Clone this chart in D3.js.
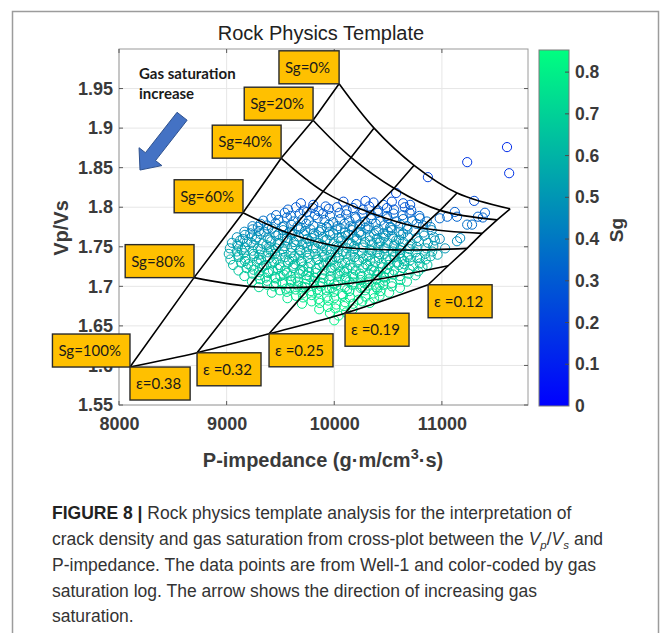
<!DOCTYPE html>
<html>
<head>
<meta charset="utf-8">
<script src="https://cdn.jsdelivr.net/npm/d3@7"></script>
<style>
  html, body { margin: 0; padding: 0; background: #fff; }
  svg { display: block; }
</style>
</head>
<body>
<svg id="chart" width="665" height="633"></svg>
<script>
// axis ranges and ticks
const xDomain = [8000, 11800];
const yDomain = [1.55, 2.0];
const xTicks = [8000, 9000, 10000, 11000];
const yTicks = [1.55, 1.6, 1.65, 1.7, 1.75, 1.8, 1.85, 1.9, 1.95];
const sgRange = [0, 0.853];
const sgTicks = [0, 0.1, 0.2, 0.3, 0.4, 0.5, 0.6, 0.7, 0.8];

// template: crack density lines and gas saturation curves
const crackDensity = [0.38, 0.32, 0.25, 0.19, 0.12];
const crackLabels = ['ε=0.38', 'ε =0.32', 'ε =0.25', 'ε =0.19', 'ε =0.12'];
const satLevels = [0, 20, 40, 60, 80, 100];
const satLabels = ['Sg=0%', 'Sg=20%', 'Sg=40%', 'Sg=60%', 'Sg=80%', 'Sg=100%'];

// node values, one row per Sg level, one column per crack density
const rptImpedance = [
  [10045, 10370, 10742, 11141, 11634],
  [9803, 10156, 10556, 10983, 11513],
  [9506, 9896, 10333, 10807, 11374],
  [9152, 9580, 10054, 10630, 11234],
  [8697, 9208, 9775, 10361, 11058],
  [8102, 8725, 9394, 10100, 10872]
];
const rptVpVs = [
  [1.956, 1.900, 1.853, 1.818, 1.798],
  [1.910, 1.863, 1.824, 1.796, 1.784],
  [1.862, 1.820, 1.793, 1.774, 1.767],
  [1.793, 1.767, 1.750, 1.746, 1.748],
  [1.711, 1.700, 1.699, 1.708, 1.726],
  [1.598, 1.616, 1.640, 1.666, 1.702]
];

// arrow annotation (data units)
const arrowTail = [8586, 1.915];
const arrowTip = [8195, 1.847];

// Well-1 samples: [P-impedance, Vp/Vs, Sg]
const wellTop = [
  [9690,1.805,.28],[9805,1.803,.27],[9920,1.801,.29],[10085,1.807,.26],[10205,1.804,.27],[10290,1.808,.25],
  [10365,1.806,.27],[10455,1.803,.28],[10535,1.807,.26],[10575,1.818,.24],[10640,1.805,.27],
  [9570,1.797,.31],[9645,1.800,.30],[9715,1.796,.31],[9800,1.799,.29],[9855,1.795,.31],[9950,1.798,.30],
  [10025,1.800,.29],[10115,1.796,.31],[10175,1.799,.30],[10265,1.797,.30],[10325,1.801,.28],[10405,1.796,.31],
  [10490,1.799,.29],[10555,1.797,.30],[10655,1.800,.29],[10715,1.796,.31],
  [9460,1.790,.33],[9540,1.793,.32],[9595,1.789,.34],[9680,1.792,.33],[9745,1.794,.32],[9820,1.790,.34],
  [9895,1.792,.33],[9960,1.789,.34],[10050,1.793,.32],[10110,1.791,.33],[10195,1.788,.35],[10260,1.792,.33],
  [10345,1.790,.34],[10405,1.793,.32],[10490,1.789,.34],[10550,1.792,.33],[10635,1.790,.34],[10700,1.793,.32],
  [10790,1.789,.34],
  [9340,1.783,.37],[9415,1.786,.36],[9480,1.784,.36],[9560,1.787,.35],[9620,1.782,.37],[9705,1.785,.36],
  [9765,1.783,.37],[9845,1.786,.35],[9910,1.784,.36],[9990,1.781,.38],[10055,1.785,.36],[10140,1.783,.37],
  [10200,1.786,.35],[10285,1.782,.37],[10345,1.785,.36],[10430,1.783,.37],[10495,1.786,.35],[10575,1.782,.37],
  [10640,1.785,.36],[10725,1.783,.37],[10795,1.786,.35],[10860,1.782,.37]
];
const wellMid = [
  [9240,1.776,.40],[9315,1.779,.39],[9375,1.777,.40],[9455,1.780,.39],[9515,1.775,.41],[9600,1.778,.40],
  [9660,1.776,.41],[9740,1.779,.39],[9805,1.777,.40],[9885,1.774,.42],[9950,1.778,.40],[10030,1.776,.41],
  [10095,1.779,.39],[10175,1.775,.41],[10240,1.778,.40],[10320,1.776,.41],[10385,1.779,.39],[10465,1.777,.40],
  [10530,1.774,.42],[10615,1.778,.40],[10675,1.776,.41],[10765,1.779,.39],[10825,1.777,.40],[10895,1.775,.41],
  [9165,1.769,.44],[9240,1.772,.43],[9300,1.770,.44],[9385,1.773,.43],[9445,1.768,.45],[9525,1.771,.44],
  [9585,1.769,.45],[9670,1.772,.43],[9730,1.770,.44],[9810,1.767,.46],[9875,1.771,.44],[9955,1.769,.45],
  [10020,1.772,.43],[10100,1.768,.45],[10165,1.771,.44],[10245,1.769,.45],[10310,1.772,.43],[10390,1.770,.44],
  [10455,1.767,.46],[10535,1.771,.44],[10600,1.769,.45],[10680,1.772,.43],[10745,1.770,.44],[10830,1.768,.45],
  [10905,1.771,.44],
  [9095,1.762,.48],[9170,1.765,.47],[9235,1.763,.48],[9315,1.766,.47],[9380,1.761,.49],[9460,1.764,.48],
  [9525,1.762,.49],[9605,1.765,.47],[9670,1.763,.48],[9750,1.760,.50],[9815,1.764,.48],[9895,1.762,.49],
  [9960,1.765,.47],[10040,1.761,.49],[10105,1.764,.48],[10185,1.762,.49],[10250,1.765,.47],[10330,1.763,.48],
  [10395,1.760,.50],[10475,1.764,.48],[10540,1.762,.49],[10620,1.765,.47],[10685,1.763,.48],[10765,1.761,.49],
  [10835,1.764,.48],[10925,1.762,.49],
  [9050,1.755,.51],[9125,1.758,.50],[9190,1.756,.51],[9270,1.759,.50],[9335,1.754,.52],[9415,1.757,.51],
  [9480,1.755,.52],[9560,1.758,.50],[9625,1.756,.51],[9705,1.753,.53],[9770,1.757,.51],[9850,1.755,.52],
  [9915,1.758,.50],[9995,1.754,.52],[10060,1.757,.51],[10140,1.755,.52],[10205,1.758,.50],[10285,1.756,.51],
  [10350,1.753,.53],[10430,1.757,.51],[10495,1.755,.52],[10575,1.758,.50],[10640,1.756,.51],[10720,1.754,.52],
  [10785,1.757,.51],[10870,1.755,.52],[10935,1.758,.50],
  [9030,1.748,.54],[9105,1.751,.53],[9170,1.749,.54],[9250,1.752,.53],[9315,1.747,.55],[9395,1.750,.54],
  [9460,1.748,.55],[9540,1.751,.53],[9605,1.749,.54],[9685,1.746,.56],[9750,1.750,.54],[9830,1.748,.55],
  [9895,1.751,.53],[9975,1.747,.55],[10040,1.750,.54],[10120,1.748,.55],[10185,1.751,.53],[10265,1.749,.54],
  [10330,1.746,.56],[10410,1.750,.54],[10475,1.748,.55],[10555,1.751,.53],[10620,1.749,.54],[10700,1.747,.55],
  [10765,1.750,.54],[10855,1.748,.55],[10920,1.751,.53],
  [9020,1.741,.57],[9095,1.744,.56],[9160,1.742,.57],[9240,1.745,.56],[9305,1.740,.58],[9385,1.743,.57],
  [9450,1.741,.58],[9530,1.744,.56],[9595,1.742,.57],[9675,1.739,.59],[9740,1.743,.57],[9820,1.741,.58],
  [9885,1.744,.56],[9965,1.740,.58],[10030,1.743,.57],[10110,1.741,.58],[10175,1.744,.56],[10255,1.742,.57],
  [10320,1.739,.59],[10400,1.743,.57],[10465,1.741,.58],[10545,1.744,.56],[10610,1.742,.57],[10690,1.740,.58],
  [10755,1.743,.57],[10845,1.741,.58],[10910,1.744,.56]
];
const wellLow = [
  [9035,1.734,.60],[9110,1.737,.59],[9175,1.735,.60],[9255,1.738,.59],[9320,1.733,.61],[9400,1.736,.60],
  [9465,1.734,.61],[9545,1.737,.59],[9610,1.735,.60],[9690,1.732,.62],[9755,1.736,.60],[9835,1.734,.61],
  [9900,1.737,.59],[9980,1.733,.61],[10045,1.736,.60],[10125,1.734,.61],[10190,1.737,.59],[10270,1.735,.60],
  [10335,1.732,.62],[10415,1.736,.60],[10480,1.734,.61],[10560,1.737,.59],[10625,1.735,.60],[10705,1.733,.61],
  [10770,1.736,.60],[10850,1.734,.61],[10895,1.738,.59],
  [9060,1.727,.63],[9135,1.730,.62],[9200,1.728,.63],[9280,1.731,.62],[9345,1.726,.64],[9425,1.729,.63],
  [9490,1.727,.64],[9570,1.730,.62],[9635,1.728,.63],[9715,1.725,.65],[9780,1.729,.63],[9860,1.727,.64],
  [9925,1.730,.62],[10005,1.726,.64],[10070,1.729,.63],[10150,1.727,.64],[10215,1.730,.62],[10295,1.728,.63],
  [10360,1.725,.65],[10440,1.729,.63],[10505,1.727,.64],[10585,1.730,.62],[10650,1.728,.63],[10730,1.726,.64],
  [10795,1.729,.63],[10865,1.727,.64],
  [9110,1.720,.66],[9185,1.723,.65],[9250,1.721,.66],[9330,1.724,.65],[9395,1.719,.67],[9475,1.722,.66],
  [9540,1.720,.67],[9620,1.723,.65],[9685,1.721,.66],[9765,1.718,.68],[9830,1.722,.66],[9910,1.720,.67],
  [9975,1.723,.65],[10055,1.719,.67],[10120,1.722,.66],[10200,1.720,.67],[10265,1.723,.65],[10345,1.721,.66],
  [10410,1.718,.68],[10490,1.722,.66],[10555,1.720,.67],[10635,1.723,.65],[10700,1.721,.66],[10780,1.719,.67],
  [10820,1.724,.65],
  [9165,1.713,.69],[9240,1.716,.68],[9305,1.714,.69],[9385,1.717,.68],[9450,1.712,.70],[9530,1.715,.69],
  [9595,1.713,.70],[9675,1.716,.68],[9740,1.714,.69],[9820,1.711,.71],[9885,1.715,.69],[9965,1.713,.70],
  [10030,1.716,.68],[10110,1.712,.70],[10175,1.715,.69],[10255,1.713,.70],[10320,1.716,.68],[10400,1.714,.69],
  [10465,1.711,.71],[10545,1.715,.69],[10610,1.713,.70],[10690,1.716,.68],[10755,1.714,.69],
  [9235,1.706,.71],[9310,1.709,.70],[9375,1.707,.71],[9455,1.710,.70],[9520,1.705,.72],[9600,1.708,.71],
  [9665,1.706,.72],[9745,1.709,.70],[9810,1.707,.71],[9890,1.704,.73],[9955,1.708,.71],[10035,1.706,.72],
  [10100,1.709,.70],[10180,1.705,.72],[10245,1.708,.71],[10325,1.706,.72],[10390,1.709,.70],[10470,1.707,.71],
  [10535,1.704,.73],[10615,1.708,.71],[10675,1.706,.72],
  [9300,1.699,.73],[9375,1.702,.72],[9440,1.700,.73],[9520,1.703,.72],[9585,1.698,.74],[9665,1.701,.73],
  [9730,1.699,.74],[9810,1.702,.72],[9875,1.700,.73],[9955,1.697,.75],[10020,1.701,.73],[10100,1.699,.74],
  [10165,1.702,.72],[10245,1.698,.74],[10310,1.701,.73],[10390,1.699,.74],[10455,1.702,.72],[10535,1.700,.73],
  [10610,1.698,.74],
  [9420,1.692,.75],[9495,1.695,.74],[9560,1.693,.75],[9640,1.696,.74],[9705,1.691,.76],[9785,1.694,.75],
  [9850,1.692,.76],[9930,1.695,.74],[9995,1.693,.75],[10075,1.690,.77],[10140,1.694,.75],[10220,1.692,.76],
  [10285,1.695,.74],[10365,1.691,.76],[10430,1.694,.75],[10510,1.692,.76],
  [9565,1.685,.77],[9645,1.688,.76],[9710,1.686,.77],[9790,1.689,.76],[9855,1.684,.78],[9935,1.687,.77],
  [10000,1.685,.78],[10080,1.688,.76],[10145,1.686,.77],[10225,1.683,.79],[10290,1.687,.77],[10370,1.685,.78],
  [10420,1.688,.76],
  [9700,1.678,.79],[9790,1.681,.78],[9865,1.679,.79],[9945,1.682,.78],[10020,1.677,.80],[10100,1.680,.79],
  [10175,1.678,.80],[10260,1.681,.78],[10330,1.679,.79],
  [9860,1.671,.80],[9940,1.674,.79],[10010,1.672,.80],[10090,1.675,.79],[10170,1.671,.81],
  [9960,1.666,.81],[10040,1.663,.82],[10110,1.667,.81],[10000,1.657,.82]
];
// extra samples filling the dense core
const wellCore = [
  [9290,1.775,.42],[9420,1.773,.43],[9530,1.776,.41],[9690,1.774,.42],[9780,1.772,.43],[9930,1.775,.42],
  [10060,1.773,.43],[10150,1.776,.41],[10290,1.774,.42],[10410,1.772,.43],[10520,1.775,.42],
  [9220,1.767,.46],[9350,1.769,.45],[9480,1.766,.47],[9610,1.768,.46],[9720,1.766,.46],[9860,1.769,.45],
  [9990,1.767,.46],[10130,1.765,.47],[10230,1.768,.46],[10370,1.766,.47],[10500,1.769,.45],[10640,1.767,.46],
  [9150,1.760,.50],[9280,1.762,.49],[9400,1.759,.50],[9560,1.761,.50],[9650,1.758,.51],[9790,1.761,.49],
  [9930,1.759,.50],[10070,1.762,.49],[10210,1.760,.50],[10330,1.758,.51],[10460,1.761,.50],[10600,1.759,.50],
  [9100,1.753,.53],[9230,1.755,.52],[9370,1.752,.54],[9490,1.754,.53],[9640,1.752,.53],[9740,1.755,.52],
  [9880,1.753,.53],[10020,1.751,.54],[10160,1.754,.53],[10270,1.752,.54],[10420,1.755,.52],[10560,1.753,.53],
  [10700,1.751,.54],
  [9140,1.746,.56],[9290,1.748,.55],[9410,1.745,.57],[9520,1.747,.56],[9680,1.745,.56],[9800,1.748,.55],
  [9930,1.746,.56],[10080,1.744,.57],[10190,1.747,.56],[10350,1.745,.57],[10460,1.748,.55],[10610,1.746,.56],
  [9110,1.739,.59],[9250,1.741,.58],[9370,1.738,.60],[9500,1.740,.59],[9630,1.738,.59],[9770,1.741,.58],
  [9910,1.739,.59],[10010,1.737,.60],[10150,1.740,.59],[10300,1.738,.60],[10420,1.741,.58],[10560,1.739,.59],
  [10680,1.737,.60],
  [9170,1.732,.62],[9300,1.734,.61],[9440,1.731,.63],[9580,1.733,.62],[9700,1.731,.62],[9850,1.734,.61],
  [9960,1.732,.62],[10100,1.730,.63],[10230,1.733,.62],[10380,1.731,.63],[10520,1.734,.61],[10650,1.732,.62],
  [9230,1.725,.65],[9370,1.727,.64],[9500,1.724,.66],[9620,1.726,.65],[9760,1.724,.65],[9900,1.727,.64],
  [10040,1.725,.65],[10170,1.723,.66],[10310,1.726,.65],[10450,1.724,.66],[10600,1.727,.64],
  [9300,1.718,.68],[9430,1.720,.67],[9560,1.717,.69],[9710,1.719,.68],[9830,1.717,.68],[9970,1.720,.67],
  [10090,1.718,.68],[10240,1.716,.69],[10370,1.719,.68],[10510,1.717,.69],
  [9360,1.711,.70],[9500,1.713,.69],[9640,1.710,.71],[9770,1.712,.70],[9900,1.710,.70],[10050,1.713,.69],
  [10180,1.711,.70],[10320,1.709,.71],[10460,1.712,.70],
  [9460,1.704,.72],[9600,1.706,.71],[9730,1.703,.73],[9870,1.705,.72],[10000,1.703,.72],[10140,1.706,.71],
  [10280,1.704,.72],[10420,1.702,.73],
  [9550,1.697,.74],[9700,1.699,.73],[9840,1.696,.75],[9980,1.698,.74],[10120,1.696,.74],[10260,1.699,.73],
  [10400,1.697,.74]
];
const wellTail = [
  [10980,1.786,.35],[11050,1.788,.33],[11140,1.788,.33],[11235,1.778,.37],[11335,1.788,.33],[11400,1.793,.31],
  [11380,1.787,.33],[11300,1.808,.25],[11170,1.761,.45],[11140,1.757,.47],[11030,1.748,.50],[11280,1.778,.36],
  [11120,1.794,.31],[10795,1.736,.56],[10705,1.803,.28],[10980,1.760,.46],[10960,1.740,.55]
];
const wellOutliers = [
  [10870,1.838,.22],[11235,1.857,.18],[11605,1.876,.14],[11625,1.843,.17]
];
const wellSamples = [...wellTop, ...wellMid, ...wellLow, ...wellCore, ...wellTail, ...wellOutliers];

const svg = d3.select('#chart');
const W = 665, H = 633;
const plot = { left: 119, right: 528, top: 49, bottom: 405 };
const bar = { left: 539, right: 569 };

const x = d3.scaleLinear().domain(xDomain).range([plot.left, plot.right]);
const y = d3.scaleLinear().domain(yDomain).range([plot.bottom, plot.top]);
const cy = d3.scaleLinear().domain(sgRange).range([406, 50]);
// MATLAB "winter": blue -> spring green
const sgColor = d3.scaleLinear().domain(sgRange).range(['#0000ff', '#00ff80'])
  .interpolate(d3.interpolateRgb).clamp(true);

const axisFont = '"Liberation Sans", Arial, sans-serif';
const boxFont = 'Lato, "Open Sans", sans-serif';

// outer frame of the figure panel
svg.append('path')
  .attr('d', `M12.5,${H + 5}V11.5H658.5V${H + 5}`)
  .attr('fill', 'none').attr('stroke', '#9c9c9c').attr('stroke-width', 1.5);

// title
svg.append('text')
  .attr('x', 321).attr('y', 40)
  .attr('text-anchor', 'middle')
  .attr('font-family', axisFont).attr('font-size', 20).attr('fill', '#222')
  .text('Rock Physics Template');

// grid
const grid = svg.append('g').attr('stroke', '#e6e6e6').attr('stroke-width', 1);
grid.selectAll('line.gx').data(xTicks).join('line')
  .attr('x1', d => x(d)).attr('x2', d => x(d))
  .attr('y1', plot.top).attr('y2', plot.bottom);
grid.selectAll('line.gy').data(yTicks).join('line')
  .attr('y1', d => y(d)).attr('y2', d => y(d))
  .attr('x1', plot.left).attr('x2', plot.right);

// tick labels
const xAxis = svg.append('g')
  .attr('transform', `translate(0,${plot.bottom})`)
  .call(d3.axisBottom(x).tickValues(xTicks).tickSize(0).tickPadding(12).tickFormat(d => String(d)));
const yAxis = svg.append('g')
  .attr('transform', `translate(${plot.left},0)`)
  .call(d3.axisLeft(y).tickValues(yTicks).tickSize(0).tickPadding(6).tickFormat(d => String(d)));
[xAxis, yAxis].forEach(a => {
  a.select('.domain').remove();
  a.selectAll('text')
    .attr('font-family', axisFont).attr('font-size', 18)
    .attr('font-weight', 'bold').attr('fill', '#3a3a3a');
});

// scatter of well data
svg.append('g')
  .attr('fill', 'none').attr('stroke-width', 1)
  .selectAll('circle')
  .data(wellSamples)
  .join('circle')
  .attr('cx', d => x(d[0]))
  .attr('cy', d => y(d[1]))
  .attr('r', 4.6)
  .attr('stroke', d => sgColor(d[2]));

// template lines
const nodes = rptImpedance.map((row, i) => row.map((ip, j) => [ip, rptVpVs[i][j]]));
const straight = d3.line().x(d => x(d[0])).y(d => y(d[1]));
const curved = d3.line().x(d => x(d[0])).y(d => y(d[1])).curve(d3.curveCatmullRom.alpha(0.5));
const rpt = svg.append('g').attr('fill', 'none').attr('stroke', '#000').attr('stroke-width', 1.6);
rpt.selectAll('path.sat').data(nodes).join('path')
  .attr('d', curved);
rpt.selectAll('path.crack').data(crackDensity).join('path')
  .attr('d', (c, j) => straight(nodes.map(row => row[j])));

// axes box and inward ticks
svg.append('rect')
  .attr('x', plot.left).attr('y', plot.top)
  .attr('width', plot.right - plot.left).attr('height', plot.bottom - plot.top)
  .attr('fill', 'none').attr('stroke', '#9a9a9a').attr('stroke-width', 1);
const ticks = svg.append('g').attr('stroke', '#5a5a5a').attr('stroke-width', 1);
xTicks.forEach(t => {
  ticks.append('line').attr('x1', x(t)).attr('x2', x(t)).attr('y1', plot.bottom).attr('y2', plot.bottom - 4);
  ticks.append('line').attr('x1', x(t)).attr('x2', x(t)).attr('y1', plot.top).attr('y2', plot.top + 4);
});
yTicks.forEach(t => {
  ticks.append('line').attr('y1', y(t)).attr('y2', y(t)).attr('x1', plot.left).attr('x2', plot.left + 4);
  ticks.append('line').attr('y1', y(t)).attr('y2', y(t)).attr('x1', plot.right).attr('x2', plot.right - 4);
});

// axis titles
const xTitle = svg.append('text')
  .attr('x', 323).attr('y', 467).attr('text-anchor', 'middle')
  .attr('font-family', axisFont).attr('font-size', 20).attr('font-weight', 'bold').attr('fill', '#3a3a3a');
xTitle.append('tspan').text('P-impedance (g·m/cm');
xTitle.append('tspan').attr('dy', -8).attr('font-size', 14.5).text('3');
xTitle.append('tspan').attr('dy', 8).text('·s)');
svg.append('text')
  .attr('transform', 'translate(68,228) rotate(-90)')
  .attr('text-anchor', 'middle')
  .attr('font-family', axisFont).attr('font-size', 20).attr('font-weight', 'bold').attr('fill', '#3a3a3a')
  .text('Vp/Vs');

// label boxes
function labelBox(text, anchorX, anchorY, corner) {
  const g = svg.append('g');
  const rect = g.append('rect').attr('fill', '#ffc000').attr('stroke', '#2a2a2a').attr('stroke-width', 1.4);
  const t = g.append('text')
    .attr('font-family', boxFont).attr('font-size', 15).attr('fill', '#1a1a1a')
    .text(text);
  const w = t.node().getComputedTextLength() + 15;
  const h = 33;
  const bx = corner === 'br' ? anchorX - w : anchorX;
  const by = corner === 'br' ? anchorY - h : anchorY;
  rect.attr('x', bx).attr('y', by).attr('width', w).attr('height', h);
  t.attr('x', bx + 6).attr('y', by + h / 2 + 5.5);
}
satLabels.forEach((lab, i) => {
  labelBox(lab, x(rptImpedance[i][0]), y(rptVpVs[i][0]), 'br');
});
crackLabels.forEach((lab, j) => {
  labelBox(lab, x(rptImpedance[5][j]), y(rptVpVs[5][j]), 'tl');
});

// gas saturation arrow
(function () {
  const T = [x(arrowTail[0]), y(arrowTail[1])];
  const P = [x(arrowTip[0]), y(arrowTip[1])];
  const len = Math.hypot(P[0] - T[0], P[1] - T[1]);
  const d = [(P[0] - T[0]) / len, (P[1] - T[1]) / len];
  const n = [-d[1], d[0]];
  const headLen = 17, headW = 14.5, shaftW = 6.4;
  const B = [P[0] - d[0] * headLen, P[1] - d[1] * headLen];
  const pt = (o, k) => [o[0] + n[0] * k, o[1] + n[1] * k];
  const poly = [pt(T, shaftW), pt(B, shaftW), pt(B, headW), P, pt(B, -headW), pt(B, -shaftW), pt(T, -shaftW)];
  svg.append('polygon')
    .attr('points', poly.map(p => p.join(',')).join(' '))
    .attr('fill', '#4472c4').attr('stroke', '#2f528f').attr('stroke-width', 1);
})();
const note = svg.append('text')
  .attr('font-family', boxFont).attr('font-size', 15).attr('font-weight', 'bold').attr('fill', '#1a1a1a');
note.append('tspan').attr('x', 139).attr('y', 79).text('Gas saturation');
note.append('tspan').attr('x', 139).attr('y', 99).text('increase');

// colorbar
const defs = svg.append('defs');
const grad = defs.append('linearGradient').attr('id', 'winter')
  .attr('x1', 0).attr('y1', 1).attr('x2', 0).attr('y2', 0);
grad.append('stop').attr('offset', 0).attr('stop-color', sgColor(sgRange[0]));
grad.append('stop').attr('offset', 1).attr('stop-color', sgColor(sgRange[1]));
svg.append('rect')
  .attr('x', bar.left).attr('y', cy(sgRange[1]))
  .attr('width', bar.right - bar.left).attr('height', cy(sgRange[0]) - cy(sgRange[1]))
  .attr('fill', 'url(#winter)').attr('stroke', '#7a7a7a').attr('stroke-width', 1);
const cAxis = svg.append('g')
  .attr('transform', `translate(${bar.right},0)`)
  .call(d3.axisRight(cy).tickValues(sgTicks).tickSize(0).tickPadding(6).tickFormat(d => String(d)));
cAxis.select('.domain').remove();
cAxis.selectAll('text')
  .attr('font-family', axisFont).attr('font-size', 17.5)
  .attr('font-weight', 'bold').attr('fill', '#3a3a3a');
svg.append('g').attr('stroke', '#4a4a4a').attr('stroke-width', 1)
  .selectAll('line').data(sgTicks.slice(1)).join('line')
  .attr('x1', bar.right - 4).attr('x2', bar.right)
  .attr('y1', d => cy(d)).attr('y2', d => cy(d));
svg.append('text')
  .attr('transform', 'translate(623,230) rotate(-90)')
  .attr('text-anchor', 'middle')
  .attr('font-family', axisFont).attr('font-size', 19).attr('font-weight', 'bold').attr('fill', '#3a3a3a')
  .text('Sg');

// caption
const capFont = '"Liberation Sans", Arial, sans-serif';
const cap = svg.append('text')
  .attr('font-family', capFont).attr('font-size', 17.5).attr('fill', '#333');
const lineY = [519, 545, 571, 597, 622];
const l1 = cap.append('tspan').attr('x', 52).attr('y', lineY[0]);
l1.append('tspan').attr('font-weight', 'bold').attr('fill', '#222').text('FIGURE 8 | ');
l1.append('tspan').text('Rock physics template analysis for the interpretation of');
const l2 = cap.append('tspan').attr('x', 52).attr('y', lineY[1]);
l2.append('tspan').text('crack density and gas saturation from cross-plot between the ');
l2.append('tspan').attr('font-style', 'italic').text('V');
l2.append('tspan').attr('font-style', 'italic').attr('font-size', 11.5).attr('dy', 4).text('p');
l2.append('tspan').attr('dy', -4).text('/');
l2.append('tspan').attr('font-style', 'italic').text('V');
l2.append('tspan').attr('font-style', 'italic').attr('font-size', 11.5).attr('dy', 4).text('s');
l2.append('tspan').attr('dy', -4).text(' and');
cap.append('tspan').attr('x', 52).attr('y', lineY[2])
  .text('P-impedance. The data points are from Well-1 and color-coded by gas');
cap.append('tspan').attr('x', 52).attr('y', lineY[3])
  .text('saturation log. The arrow shows the direction of increasing gas');
cap.append('tspan').attr('x', 52).attr('y', lineY[4]).text('saturation.');
</script>
</body>
</html>
